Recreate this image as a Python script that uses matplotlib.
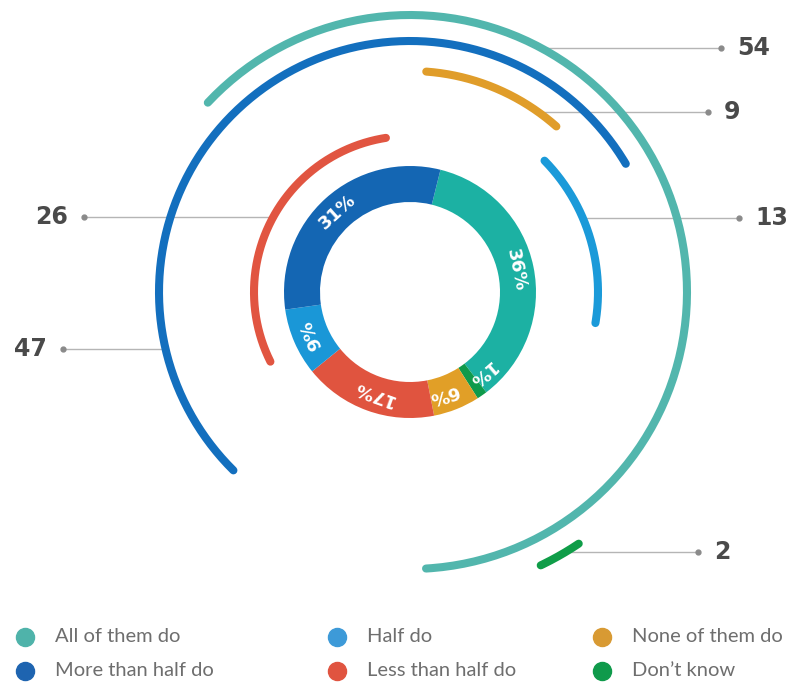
import numpy as np
import matplotlib.pyplot as plt

# Survey answers and how many respondents gave each
labels = ['All of them do', 'More than half do', 'Half do',
          'Less than half do', 'None of them do', 'Don\u2019t know']
counts = [54, 47, 13, 26, 9, 2]

# ring colours (inner donut) and arc colours (outer rings)
donut_colors = ['#1cb1a3', '#1466b3', '#1a97d7', '#e0543f', '#e19f27', '#0f9a4b']
arc_colors = ['#52b6ad', '#136fbe', '#1b9ad9', '#e15541', '#e09d2a', '#0f9d48']
legend_colors = ['#4fb3aa', '#1e64b0', '#3d9ad8', '#e05440', '#d89a33', '#0f9a4b']

# layout of the outer arcs: radius, centre angle (clockwise from top, deg)
arc_radius = [277, 251, 188, 156, 221, 303]
arc_mid = [64.9, 322.0, 72.6, 297.3, 22.85, 150.3]
# leader lines: y position (px from top), side, dot x
lead_y = [48, 349, 218, 217, 112, 552]
lead_side = [1, -1, 1, -1, 1, 1]
lead_dot_x = [721, 63, 739, 84, 708, 698]
# small shifts (deg) for the percent labels so the thin slices stay readable
pct_shift = [0, 0, 0, 0, 4, -6]

donut_order = [0, 5, 4, 3, 2, 1]   # clockwise from the top
deg_per_unit = 4.14

W, H = 787, 683
cx, cy = 410, H - 292

fig = plt.figure(figsize=(W / 100, H / 100), dpi=100)
ax = fig.add_axes([0, 0, 1, 1])

total = sum(counts)

# inner donut
d_vals = [counts[i] for i in donut_order]
d_cols = [donut_colors[i] for i in donut_order]
start = 14.0
ax.pie(d_vals, colors=d_cols, startangle=90 - start, counterclock=False,
       radius=126, center=(cx, cy), frame=False,
       wedgeprops=dict(width=36, edgecolor='none', linewidth=0))

theta = start
for i in donut_order:
    span = counts[i] / total * 360
    mid = np.radians(theta + span / 2 + pct_shift[i])
    r = 108
    pct = round(counts[i] / total * 100)
    ax.text(cx + r * np.sin(mid), cy + r * np.cos(mid), f'{pct}%',
            rotation=-np.degrees(mid), rotation_mode='anchor',
            ha='center', va='center', color='white', fontsize=13,
            fontweight='bold', zorder=5)
    theta += span

# outer arcs with leader lines and counts
for i, c in enumerate(counts):
    r = arc_radius[i]
    span = c * deg_per_unit
    t = np.radians(np.linspace(arc_mid[i] - span / 2, arc_mid[i] + span / 2, 200))
    ax.plot(cx + r * np.sin(t), cy + r * np.cos(t), color=arc_colors[i],
            lw=5.8, solid_capstyle='round', zorder=3)

    y = H - lead_y[i]
    x0 = cx + lead_side[i] * np.sqrt(r ** 2 - (y - cy) ** 2)
    ax.plot([x0, lead_dot_x[i]], [y, y], color='#b5b5b5', lw=1, zorder=1)
    ax.plot(lead_dot_x[i], y, 'o', color='#8a8a8a', ms=3.5, zorder=2)
    if lead_side[i] > 0:
        ax.text(lead_dot_x[i] + 16, y, str(c), ha='left', va='center',
                fontsize=17, fontweight='bold', color='#4a4a4a')
    else:
        ax.text(lead_dot_x[i] - 16, y, str(c), ha='right', va='center',
                fontsize=17, fontweight='bold', color='#4a4a4a')

# legend, two rows of three
leg_x = [25, 25, 337, 337, 602, 602]
leg_y = [637, 671, 637, 671, 637, 671]
for i, lab in enumerate(labels):
    ax.plot(leg_x[i], H - leg_y[i], 'o', color=legend_colors[i], ms=13, zorder=2)
    ax.text(leg_x[i] + 30, H - leg_y[i], lab, ha='left', va='center',
            fontsize=14.5, color='#6e6e6e', family='Lato')

ax.set_xlim(0, W)
ax.set_ylim(0, H)
ax.set_aspect('equal')
ax.axis('off')

fig.savefig('out.png', dpi=100, facecolor='white')
